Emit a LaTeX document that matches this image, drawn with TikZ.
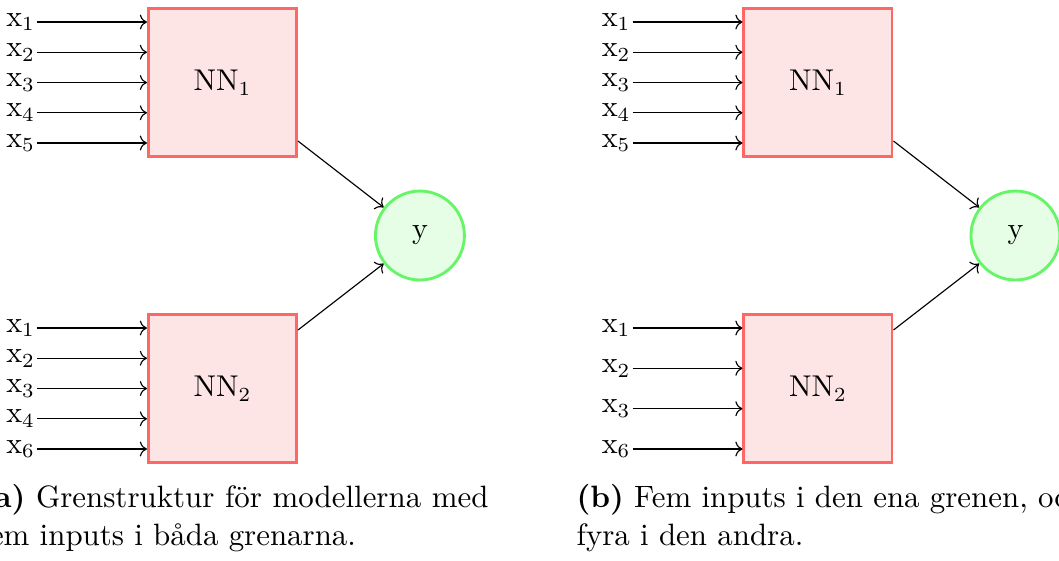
\documentclass[tikz,border=0pt]{standalone}
\usepackage{tikz}
\usetikzlibrary{arrows.meta, positioning, calc}
\definecolor{boxred}{RGB}{255, 102, 102}
\definecolor{boxfill}{RGB}{253, 229, 229}
\definecolor{outgreen}{RGB}{102, 245, 102}
\definecolor{outfill}{RGB}{230, 253, 230}
\newcommand{\diagfont}{\fontsize{10.5pt}{12pt}\selectfont}
\newcommand{\capfont}{\fontsize{10.8pt}{13pt}\selectfont}

\tikzset{
    netbox/.style={draw=boxred, line width=1pt, fill=boxfill, minimum size=1.82cm, font=\diagfont},
    outnode/.style={circle, draw=outgreen, line width=1pt, fill=outfill, minimum size=1.093cm, inner sep=0pt, font=\diagfont},
    inlabel/.style={anchor=east, inner sep=0.5pt, font=\diagfont},
    subcap/.style={anchor=north west, text width=6.24cm, align=justify, inner sep=0pt, font=\capfont}
}

\begin{document}
\begin{tikzpicture}
                \useasboundingbox (0,0) rectangle (13.01,-6.892);

                % --- (a) Två grenar med fem inputs var ---
                \node[netbox] (nnA1) at (2.733,-1.014) {NN$_1$};
                \node[netbox, below=1.904cm of nnA1] (nnA2) {NN$_2$};
                \node[outnode] (yA) at ($(nnA1)!0.5!(nnA2) + (2.426, 0)$) {y};

                % Inputs till NN1 och NN2
                \foreach \i/\dy in {1/0.743, 2/0.372, 3/0, 4/-0.372, 5/-0.743} {
                    \node[inlabel] (inA1\i) at ($(nnA1.west) + (-1.351, \dy)$) {x$_\i$};
                    \draw[->] (inA1\i) -- (inA1\i -| nnA1.west);
                }
                \foreach \i/\lab/\dy in {1/1/0.743, 2/2/0.372, 3/3/0, 4/4/-0.372, 5/6/-0.743} {
                    \node[inlabel] (inA2\i) at ($(nnA2.west) + (-1.351, \dy)$) {x$_\lab$};
                    \draw[->] (inA2\i) -- (inA2\i -| nnA2.west);
                }

                % Utgång
                \draw[->] (nnA1) -- (yA);
                \draw[->] (nnA2) -- (yA);

                % --- (b) Fem inputs i ena grenen, fyra i andra ---
                \node[netbox] (nnB1) at (10.049,-1.014) {NN$_1$};
                \node[netbox, below=1.904cm of nnB1] (nnB2) {NN$_2$};
                \node[outnode] (yB) at ($(nnB1)!0.5!(nnB2) + (2.426, 0)$) {y};

                \foreach \i/\dy in {1/0.743, 2/0.372, 3/0, 4/-0.372, 5/-0.743} {
                    \node[inlabel] (inB1\i) at ($(nnB1.west) + (-1.351, \dy)$) {x$_\i$};
                    \draw[->] (inB1\i) -- (inB1\i -| nnB1.west);
                }
                \foreach \i/\lab/\dy in {1/1/0.743, 2/2/0.248, 3/3/-0.248, 4/6/-0.743} {
                    \node[inlabel] (inB2\i) at ($(nnB2.west) + (-1.351, \dy)$) {x$_\lab$};
                    \draw[->] (inB2\i) -- (inB2\i -| nnB2.west);
                }

                \draw[->] (nnB1) -- (yB);
                \draw[->] (nnB2) -- (yB);

                % Bildtexter
                \node[subcap] (capA) at (-0.246,-5.947) {\textbf{(a)} Grenstruktur för modellerna med \linebreak fem inputs i båda grenarna.};
                \node[subcap] (capB) at (7.076,-5.947) {\textbf{(b)} Fem inputs i den ena grenen, och \linebreak fyra i den andra.};
            \end{tikzpicture}
\end{document}
